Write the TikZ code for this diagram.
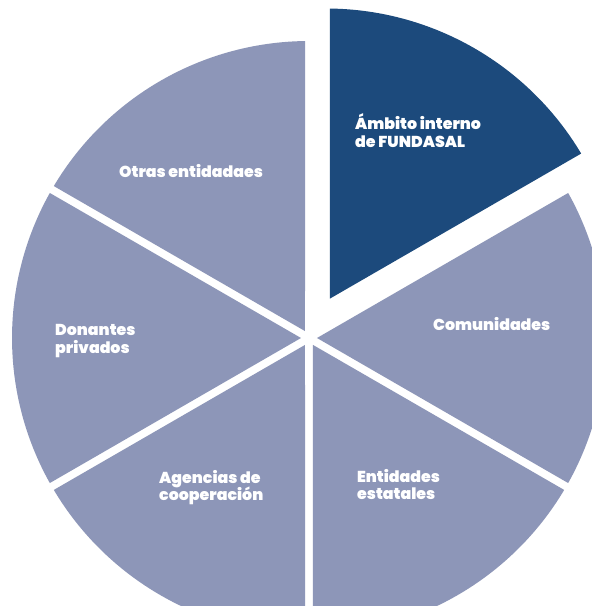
\documentclass[tikz,border=0pt]{standalone}
\usepackage{fontspec}
\newfontfamily\labfont{Poppins}[UprightFont={* Black}]
\definecolor{lightslice}{HTML}{8D96B8}
\definecolor{darkslice}{HTML}{1C4A7C}
\tikzset{
  slicelabel/.style={anchor=base west, inner sep=0pt, text=white, font=\fontsize{15.8}{18}\selectfont\labfont},
}
\begin{document}
\begin{tikzpicture}[x=1pt,y=1pt]
\useasboundingbox (-309,-268) rectangle (283,338);
\clip (-309,-268) rectangle (283,338);
\fill[white] (-309,-268) rectangle (283,338);
% regular slices
\foreach \a in {90,150,210,270,330} {
  \fill[lightslice] (\a+30:8) -- (\a+0.77:297) arc[start angle=\a+0.77, end angle=\a+59.23, radius=297] -- cycle;
}
% exploded slice
\begin{scope}[shift={(17,32.5)}]
  \fill[darkslice] (60:8) -- (30.77:297) arc[start angle=30.77, end angle=89.23, radius=297] -- cycle;
\end{scope}
% labels
\node[slicelabel] (amb1) at (46,208) {Ámbito interno};
\node[slicelabel] (amb2) at (46,190) {de FUNDASAL};
\node[slicelabel] (otr) at (-190,161) {Otras entidadaes};
\node[slicelabel] (com) at (124,8) {Comunidades};
\node[slicelabel] (don1) at (-254,3) {Donantes};
\node[slicelabel] (don2) at (-254,-15) {privados};
\node[slicelabel] (age1) at (-150,-145) {Agencias de};
\node[slicelabel] (age2) at (-150,-162) {cooperación};
\node[slicelabel] (ent1) at (48,-144) {Entidades};
\node[slicelabel] (ent2) at (48,-161) {estatales};
\end{tikzpicture}
\end{document}
